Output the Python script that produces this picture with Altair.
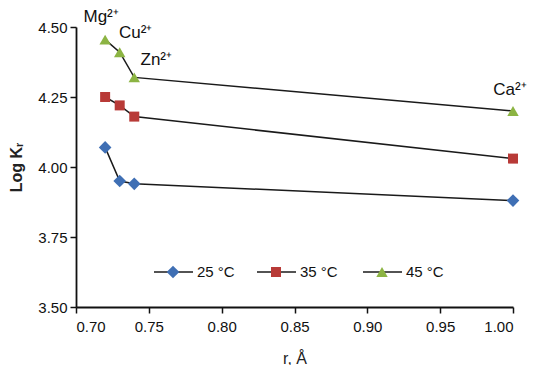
import altair as alt
import pandas as pd

# ---- data ----
radius = [0.72, 0.73, 0.74, 1.00]
ions = ["Mg²⁺", "Cu²⁺", "Zn²⁺", "Ca²⁺"]
series = ["25 °C", "35 °C", "45 °C"]
logk_25 = [4.07, 3.95, 3.94, 3.88]
logk_35 = [4.25, 4.22, 4.18, 4.03]
logk_45 = [4.455, 4.41, 4.32, 4.20]

rows = []
for s, vals in zip(series, [logk_25, logk_35, logk_45]):
    for r, ion, v in zip(radius, ions, vals):
        rows.append({"r": r, "ion": ion, "series": s, "logk": v})
df = pd.DataFrame(rows)

colors = {"25 °C": "#3F6FB4", "35 °C": "#B83A37", "45 °C": "#8CB443"}
shapes = {"25 °C": "diamond", "35 °C": "square", "45 °C": "triangle-up"}
sizes = {"25 °C": 160, "35 °C": 100, "45 °C": 130}
FONT = "Liberation Sans"

xs = alt.Scale(domain=[0.70, 1.00], nice=False, zero=False)
ys = alt.Scale(domain=[3.50, 4.50], nice=False, zero=False)

X = alt.X("r:Q", scale=xs, title="r, Å",
          axis=alt.Axis(values=[0.70, 0.75, 0.80, 0.85, 0.90, 0.95, 1.00], format=".2f",
                        labelPadding=6, titlePadding=16))
Y = alt.Y("logk:Q", scale=ys, title="Log Kᵣ",
          axis=alt.Axis(values=[3.50, 3.75, 4.00, 4.25, 4.50], format=".2f", titlePadding=13,
                        titleFontSize=16, titleFontWeight="bold"))

base = alt.Chart(df)
lines = base.mark_line(color="#1a1a1a", strokeWidth=1.5).encode(x=X, y=Y, detail="series:N")

layers = [lines]
for s in series:
    layers.append(
        base.transform_filter(alt.datum.series == s).mark_point(
            filled=True, opacity=1, color=colors[s], shape=shapes[s], size=sizes[s]
        ).encode(x=X, y=Y)
    )

# ion labels (on the 45 °C series)
label_off = {"Mg²⁺": (-4, -23), "Cu²⁺": (16, -19), "Zn²⁺": (22, -17), "Ca²⁺": (-3, -21)}
for ion in ions:
    dx, dy = label_off[ion]
    layers.append(
        base.transform_filter((alt.datum.series == "45 °C") & (alt.datum.ion == ion)).mark_text(
            font=FONT, fontSize=17, color="#111", dx=dx, dy=dy
        ).encode(x=X, y=Y, text="ion:N")
    )

# manual legend (line + marker + label)
leg_x = {"25 °C": 97, "35 °C": 200, "45 °C": 306}
LEG_Y = 245
for s in series:
    cx = leg_x[s]
    one = alt.Chart(pd.DataFrame({"series": [s]}))
    layers.append(one.mark_rule(color="#1a1a1a", strokeWidth=1.5).encode(
        x=alt.value(cx - 19), x2=alt.value(cx + 20), y=alt.value(LEG_Y)))
    layers.append(one.mark_point(filled=True, opacity=1, color=colors[s], shape=shapes[s],
                                 size=sizes[s]).encode(x=alt.value(cx), y=alt.value(LEG_Y)))
    layers.append(one.mark_text(font=FONT, fontSize=15, align="left", baseline="middle",
                                color="#111").encode(
        x=alt.value(cx + 24), y=alt.value(LEG_Y), text="series:N"))

chart = alt.layer(*layers).properties(
    width=437, height=280,
    autosize=alt.AutoSizeParams(type="none"),
    padding={"left": 68, "top": 19, "right": 18, "bottom": 58},
).configure_view(stroke=None).configure_axis(
    grid=False, domainColor="#111", domainWidth=1.8, tickColor="#111", tickWidth=1.5,
    tickSize=6, labelFont=FONT, labelFontSize=15, labelColor="#111",
    titleFont=FONT, titleFontSize=16, titleFontWeight="normal", titleColor="#222",
    labelPadding=3,
)

chart.save("out.html", embed_options={"renderer": "svg", "actions": False})
